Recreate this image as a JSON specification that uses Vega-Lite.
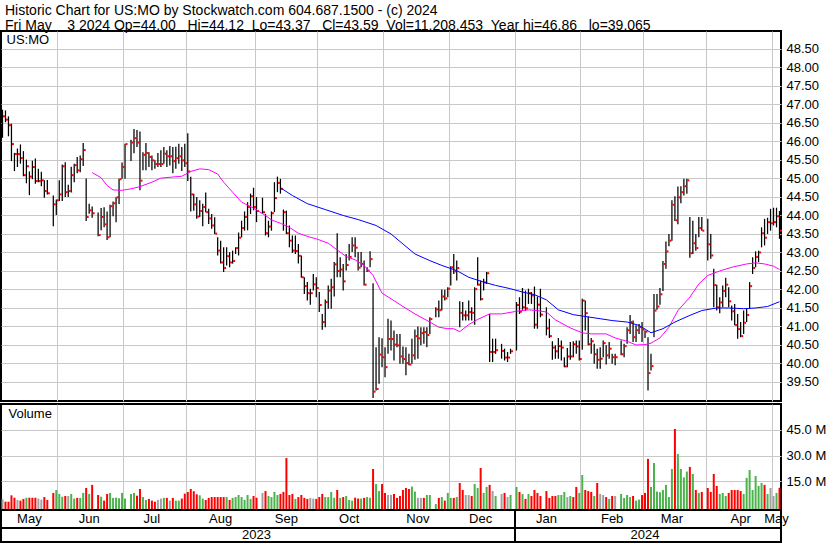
{
"$schema":"https://vega.github.io/schema/vega-lite/v6.json",
"background":"white",
"padding":{"top":4,"left":0,"right":0,"bottom":0},
"bounds":"flush",
"config":{"view":{"stroke":"#000","strokeWidth":2},"font":"Liberation Sans",
"axis":{"labelFont":"Liberation Sans","labelFontSize":13,"labelColor":"#000","gridColor":"#c8c8c8","gridWidth":1,"gridOpacity":1,"domain":false,"ticks":false,"title":null,"labelOverlap":false},
"axisY":{"labelOverlap":false},"axisRight":{"labelOverlap":false},"axisQuantitative":{"labelOverlap":false}},
"title":{"text":"Historic Chart for US:MO by Stockwatch.com 604.687.1500 - (c) 2024","anchor":"start","frame":"group","font":"Liberation Sans","fontSize":14,"fontWeight":"normal","color":"#000","offset":0,"dx":4},
"datasets":{
"px":[
{"d":"2023-05-05","h":46.86,"l":46.10,"c":46.68,"v":4500000,"s":"n"},
{"d":"2023-05-08","h":46.84,"l":46.52,"c":46.59,"v":3100000,"s":"d"},
{"d":"2023-05-09","h":46.68,"l":46.14,"c":46.44,"v":3100000,"s":"d"},
{"d":"2023-05-10","h":46.48,"l":45.47,"c":45.93,"v":6800000,"s":"d"},
{"d":"2023-05-11","h":45.69,"l":45.20,"c":45.66,"v":5400000,"s":"d"},
{"d":"2023-05-12","h":45.81,"l":45.31,"c":45.66,"v":4100000,"s":"n"},
{"d":"2023-05-15","h":45.92,"l":45.40,"c":45.55,"v":3700000,"s":"d"},
{"d":"2023-05-16","h":45.74,"l":45.06,"c":45.09,"v":4700000,"s":"d"},
{"d":"2023-05-17","h":45.51,"l":44.87,"c":45.33,"v":5400000,"s":"u"},
{"d":"2023-05-18","h":45.19,"l":44.55,"c":45.05,"v":5400000,"s":"d"},
{"d":"2023-05-19","h":45.48,"l":44.98,"c":45.31,"v":5400000,"s":"d"},
{"d":"2023-05-22","h":45.54,"l":44.86,"c":44.93,"v":5400000,"s":"d"},
{"d":"2023-05-23","h":45.26,"l":44.90,"c":44.93,"v":4900000,"s":"n"},
{"d":"2023-05-24","h":45.18,"l":44.79,"c":44.95,"v":4300000,"s":"n"},
{"d":"2023-05-25","h":44.95,"l":44.48,"c":44.66,"v":5800000,"s":"d"},
{"d":"2023-05-26","h":44.96,"l":44.57,"c":44.60,"v":4100000,"s":"d"},
{"d":"2023-05-29"},
{"d":"2023-05-30","h":44.54,"l":43.71,"c":44.30,"v":8200000,"s":"d"},
{"d":"2023-05-31","h":44.43,"l":44.01,"c":44.41,"v":9900000,"s":"u"},
{"d":"2023-06-01","h":44.95,"l":44.39,"c":44.57,"v":7600000,"s":"u"},
{"d":"2023-06-02","h":45.38,"l":44.39,"c":45.33,"v":6000000,"s":"u"},
{"d":"2023-06-05","h":45.44,"l":44.50,"c":44.63,"v":6400000,"s":"d"},
{"d":"2023-06-06","h":44.83,"l":44.50,"c":44.66,"v":6400000,"s":"n"},
{"d":"2023-06-07","h":45.32,"l":44.62,"c":45.09,"v":7600000,"s":"u"},
{"d":"2023-06-08","h":45.40,"l":44.90,"c":45.36,"v":4900000,"s":"u"},
{"d":"2023-06-09","h":45.58,"l":45.14,"c":45.22,"v":5300000,"s":"d"},
{"d":"2023-06-12","h":45.62,"l":45.17,"c":45.52,"v":5300000,"s":"u"},
{"d":"2023-06-13","h":45.96,"l":45.34,"c":45.77,"v":8200000,"s":"u"},
{"d":"2023-06-14","h":45.00,"l":43.85,"c":43.96,"v":11100000,"s":"d"},
{"d":"2023-06-15","h":44.32,"l":44.05,"c":44.14,"v":7600000,"s":"u"},
{"d":"2023-06-16","h":44.24,"l":43.94,"c":44.06,"v":12900000,"s":"d"},
{"d":"2023-06-19"},
{"d":"2023-06-20","h":44.08,"l":43.44,"c":43.47,"v":7000000,"s":"d"},
{"d":"2023-06-21","h":44.20,"l":43.60,"c":43.96,"v":6000000,"s":"u"},
{"d":"2023-06-22","h":44.22,"l":43.68,"c":43.76,"v":3700000,"s":"d"},
{"d":"2023-06-23","h":44.11,"l":43.34,"c":43.41,"v":7600000,"s":"d"},
{"d":"2023-06-26","h":44.29,"l":43.41,"c":44.25,"v":8200000,"s":"u"},
{"d":"2023-06-27","h":44.38,"l":43.98,"c":44.33,"v":5300000,"s":"u"},
{"d":"2023-06-28","h":44.49,"l":43.82,"c":44.49,"v":5400000,"s":"u"},
{"d":"2023-06-29","h":44.99,"l":44.31,"c":44.98,"v":5100000,"s":"u"},
{"d":"2023-06-30","h":45.43,"l":44.99,"c":45.31,"v":8200000,"s":"u"},
{"d":"2023-07-03","h":45.94,"l":44.99,"c":45.93,"v":4900000,"s":"u"},
{"d":"2023-07-04"},
{"d":"2023-07-05","h":46.05,"l":45.47,"c":45.97,"v":7600000,"s":"u"},
{"d":"2023-07-06","h":46.34,"l":45.68,"c":46.09,"v":8200000,"s":"u"},
{"d":"2023-07-07","h":46.31,"l":45.85,"c":45.97,"v":6600000,"s":"d"},
{"d":"2023-07-10","h":46.27,"l":44.68,"c":44.94,"v":10500000,"s":"d"},
{"d":"2023-07-11","h":45.71,"l":45.22,"c":45.64,"v":5800000,"s":"u"},
{"d":"2023-07-12","h":45.96,"l":45.22,"c":45.69,"v":4100000,"s":"u"},
{"d":"2023-07-13","h":45.71,"l":45.31,"c":45.58,"v":4700000,"s":"d"},
{"d":"2023-07-14","h":45.62,"l":45.22,"c":45.49,"v":3700000,"s":"d"},
{"d":"2023-07-17","h":45.49,"l":45.26,"c":45.39,"v":3100000,"s":"d"},
{"d":"2023-07-18","h":45.69,"l":45.31,"c":45.39,"v":4100000,"s":"n"},
{"d":"2023-07-19","h":45.76,"l":45.31,"c":45.39,"v":4900000,"s":"n"},
{"d":"2023-07-20","h":45.85,"l":45.40,"c":45.67,"v":5300000,"s":"u"},
{"d":"2023-07-21","h":45.76,"l":45.31,"c":45.60,"v":5300000,"s":"d"},
{"d":"2023-07-24","h":45.88,"l":45.35,"c":45.60,"v":3700000,"s":"n"},
{"d":"2023-07-25","h":45.85,"l":45.14,"c":45.47,"v":5300000,"s":"d"},
{"d":"2023-07-26","h":45.86,"l":45.26,"c":45.55,"v":3700000,"s":"u"},
{"d":"2023-07-27","h":45.94,"l":45.40,"c":45.60,"v":3700000,"s":"u"},
{"d":"2023-07-28","h":45.85,"l":45.20,"c":45.49,"v":4900000,"s":"d"},
{"d":"2023-07-31","h":45.94,"l":45.31,"c":45.41,"v":7800000,"s":"d"},
{"d":"2023-08-01","h":46.22,"l":44.93,"c":45.19,"v":8800000,"s":"d"},
{"d":"2023-08-02","h":45.05,"l":44.11,"c":44.57,"v":10500000,"s":"d"},
{"d":"2023-08-03","h":44.59,"l":44.13,"c":44.30,"v":9200000,"s":"d"},
{"d":"2023-08-04","h":44.50,"l":43.91,"c":43.97,"v":7400000,"s":"d"},
{"d":"2023-08-07","h":44.41,"l":43.96,"c":44.12,"v":6800000,"s":"u"},
{"d":"2023-08-08","h":44.32,"l":43.71,"c":44.23,"v":4900000,"s":"u"},
{"d":"2023-08-09","h":44.62,"l":44.09,"c":44.09,"v":4100000,"s":"d"},
{"d":"2023-08-10","h":44.18,"l":43.77,"c":43.92,"v":5300000,"s":"d"},
{"d":"2023-08-11","h":44.04,"l":43.64,"c":43.73,"v":5800000,"s":"d"},
{"d":"2023-08-14","h":43.95,"l":43.50,"c":43.51,"v":5800000,"s":"d"},
{"d":"2023-08-15","h":43.41,"l":42.92,"c":43.05,"v":5800000,"s":"d"},
{"d":"2023-08-16","h":43.32,"l":42.70,"c":42.73,"v":5800000,"s":"d"},
{"d":"2023-08-17","h":43.14,"l":42.47,"c":42.58,"v":5800000,"s":"d"},
{"d":"2023-08-18","h":43.14,"l":42.65,"c":42.90,"v":5800000,"s":"u"},
{"d":"2023-08-21","h":43.01,"l":42.60,"c":42.73,"v":4100000,"s":"d"},
{"d":"2023-08-22","h":43.05,"l":42.70,"c":42.77,"v":5300000,"s":"u"},
{"d":"2023-08-23","h":43.14,"l":42.96,"c":43.12,"v":5800000,"s":"u"},
{"d":"2023-08-24","h":43.54,"l":42.92,"c":43.40,"v":7000000,"s":"u"},
{"d":"2023-08-25","h":43.86,"l":43.41,"c":43.66,"v":5800000,"s":"u"},
{"d":"2023-08-28","h":44.11,"l":43.59,"c":43.96,"v":4100000,"s":"u"},
{"d":"2023-08-29","h":44.36,"l":43.60,"c":44.23,"v":7000000,"s":"u"},
{"d":"2023-08-30","h":44.59,"l":44.04,"c":44.52,"v":4700000,"s":"u"},
{"d":"2023-08-31","h":44.75,"l":44.14,"c":44.23,"v":6400000,"s":"d"},
{"d":"2023-09-01","h":44.50,"l":43.82,"c":44.12,"v":5400000,"s":"d"},
{"d":"2023-09-04"},
{"d":"2023-09-05","h":44.48,"l":44.04,"c":44.09,"v":8200000,"s":"n"},
{"d":"2023-09-06","h":44.04,"l":43.46,"c":43.52,"v":9300000,"s":"d"},
{"d":"2023-09-07","h":43.86,"l":43.41,"c":43.70,"v":6400000,"s":"u"},
{"d":"2023-09-08","h":44.11,"l":43.59,"c":44.06,"v":5800000,"s":"u"},
{"d":"2023-09-11","h":44.90,"l":44.09,"c":44.47,"v":8800000,"s":"u"},
{"d":"2023-09-12","h":45.05,"l":44.63,"c":44.88,"v":7000000,"s":"u"},
{"d":"2023-09-13","h":44.99,"l":44.59,"c":44.72,"v":7600000,"s":"d"},
{"d":"2023-09-14","h":44.16,"l":43.59,"c":44.09,"v":8800000,"s":"d"},
{"d":"2023-09-15","h":44.13,"l":43.50,"c":43.52,"v":28600000,"s":"d"},
{"d":"2023-09-18","h":43.73,"l":43.14,"c":43.32,"v":7000000,"s":"d"},
{"d":"2023-09-19","h":43.46,"l":42.99,"c":43.05,"v":7600000,"s":"d"},
{"d":"2023-09-20","h":43.46,"l":42.96,"c":43.04,"v":4700000,"s":"u"},
{"d":"2023-09-21","h":43.23,"l":42.70,"c":42.91,"v":5800000,"s":"d"},
{"d":"2023-09-22","h":42.92,"l":42.32,"c":42.33,"v":7000000,"s":"d"},
{"d":"2023-09-25","h":42.33,"l":41.88,"c":42.09,"v":5300000,"s":"d"},
{"d":"2023-09-26","h":42.20,"l":41.70,"c":41.90,"v":4700000,"s":"d"},
{"d":"2023-09-27","h":42.02,"l":41.59,"c":41.90,"v":5300000,"s":"n"},
{"d":"2023-09-28","h":42.42,"l":41.97,"c":42.14,"v":4900000,"s":"n"},
{"d":"2023-09-29","h":42.33,"l":41.79,"c":42.04,"v":4700000,"s":"d"},
{"d":"2023-10-02","h":41.93,"l":41.39,"c":41.58,"v":5800000,"s":"d"},
{"d":"2023-10-03","h":41.34,"l":40.91,"c":41.12,"v":7600000,"s":"d"},
{"d":"2023-10-04","h":41.73,"l":40.98,"c":41.66,"v":5800000,"s":"u"},
{"d":"2023-10-05","h":42.11,"l":41.48,"c":41.97,"v":5800000,"s":"u"},
{"d":"2023-10-06","h":42.29,"l":41.48,"c":42.06,"v":8800000,"s":"u"},
{"d":"2023-10-09","h":42.74,"l":41.81,"c":42.68,"v":5400000,"s":"u"},
{"d":"2023-10-10","h":43.52,"l":42.33,"c":42.50,"v":9900000,"s":"d"},
{"d":"2023-10-11","h":42.87,"l":42.33,"c":42.54,"v":5300000,"s":"u"},
{"d":"2023-10-12","h":42.69,"l":41.97,"c":42.22,"v":5800000,"s":"d"},
{"d":"2023-10-13","h":42.96,"l":42.51,"c":42.66,"v":6400000,"s":"u"},
{"d":"2023-10-16","h":43.23,"l":42.78,"c":42.88,"v":4100000,"s":"u"},
{"d":"2023-10-17","h":43.41,"l":43.01,"c":43.19,"v":3700000,"s":"u"},
{"d":"2023-10-18","h":43.41,"l":42.87,"c":43.13,"v":5400000,"s":"d"},
{"d":"2023-10-19","h":43.01,"l":42.51,"c":42.59,"v":4900000,"s":"d"},
{"d":"2023-10-20","h":43.01,"l":42.60,"c":42.69,"v":4900000,"s":"u"},
{"d":"2023-10-23","h":42.78,"l":42.11,"c":42.13,"v":5300000,"s":"d"},
{"d":"2023-10-24","h":42.60,"l":42.47,"c":42.51,"v":5800000,"s":"u"},
{"d":"2023-10-25","h":43.03,"l":42.60,"c":42.82,"v":5400000,"s":"u"},
{"d":"2023-10-26","h":42.17,"l":39.07,"c":39.24,"v":22200000,"s":"d"},
{"d":"2023-10-27","h":40.44,"l":39.27,"c":39.31,"v":13400000,"s":"u"},
{"d":"2023-10-30","h":40.71,"l":39.45,"c":40.24,"v":9300000,"s":"u"},
{"d":"2023-10-31","h":40.68,"l":39.90,"c":40.17,"v":13400000,"s":"d"},
{"d":"2023-11-01","h":40.44,"l":39.63,"c":39.90,"v":8200000,"s":"d"},
{"d":"2023-11-02","h":41.21,"l":40.26,"c":40.66,"v":7000000,"s":"n"},
{"d":"2023-11-03","h":41.16,"l":40.35,"c":40.66,"v":7000000,"s":"n"},
{"d":"2023-11-06","h":40.89,"l":40.08,"c":40.51,"v":7600000,"s":"d"},
{"d":"2023-11-07","h":40.80,"l":40.44,"c":40.49,"v":5300000,"s":"d"},
{"d":"2023-11-08","h":40.80,"l":39.99,"c":40.19,"v":6400000,"s":"d"},
{"d":"2023-11-09","h":40.46,"l":39.99,"c":40.12,"v":9900000,"s":"d"},
{"d":"2023-11-10","h":40.44,"l":39.68,"c":40.01,"v":11100000,"s":"d"},
{"d":"2023-11-13","h":40.26,"l":39.95,"c":39.97,"v":10500000,"s":"d"},
{"d":"2023-11-14","h":40.67,"l":39.99,"c":40.22,"v":11900000,"s":"u"},
{"d":"2023-11-15","h":40.92,"l":40.10,"c":40.74,"v":9000000,"s":"u"},
{"d":"2023-11-16","h":41.00,"l":40.13,"c":40.68,"v":5300000,"s":"n"},
{"d":"2023-11-17","h":40.98,"l":40.49,"c":40.82,"v":5300000,"s":"n"},
{"d":"2023-11-20","h":40.98,"l":40.53,"c":40.85,"v":5300000,"s":"d"},
{"d":"2023-11-21","h":40.98,"l":40.44,"c":40.77,"v":7000000,"s":"u"},
{"d":"2023-11-22","h":41.25,"l":40.80,"c":41.20,"v":7000000,"s":"u"},
{"d":"2023-11-23"},
{"d":"2023-11-24","h":41.52,"l":41.25,"c":41.46,"v":1700000,"s":"u"},
{"d":"2023-11-27","h":41.70,"l":41.25,"c":41.44,"v":5300000,"s":"d"},
{"d":"2023-11-28","h":42.00,"l":41.43,"c":41.81,"v":5800000,"s":"u"},
{"d":"2023-11-29","h":41.99,"l":41.70,"c":41.76,"v":3700000,"s":"d"},
{"d":"2023-11-30","h":42.06,"l":41.79,"c":42.02,"v":8200000,"s":"u"},
{"d":"2023-12-01","h":42.63,"l":42.11,"c":42.60,"v":5300000,"s":"u"},
{"d":"2023-12-04","h":42.96,"l":42.42,"c":42.49,"v":5300000,"s":"d"},
{"d":"2023-12-05","h":42.78,"l":42.24,"c":42.58,"v":5800000,"s":"u"},
{"d":"2023-12-06","h":41.68,"l":40.98,"c":41.37,"v":14000000,"s":"d"},
{"d":"2023-12-07","h":41.66,"l":41.16,"c":41.30,"v":9900000,"s":"d"},
{"d":"2023-12-08","h":41.43,"l":41.16,"c":41.30,"v":7000000,"s":"n"},
{"d":"2023-12-11","h":41.70,"l":41.16,"c":41.39,"v":7000000,"s":"n"},
{"d":"2023-12-12","h":41.52,"l":41.16,"c":41.37,"v":6400000,"s":"d"},
{"d":"2023-12-13","h":42.06,"l":41.05,"c":42.01,"v":13400000,"s":"u"},
{"d":"2023-12-14","h":42.87,"l":42.11,"c":42.13,"v":11100000,"s":"u"},
{"d":"2023-12-15","h":42.24,"l":41.70,"c":41.74,"v":22800000,"s":"d"},
{"d":"2023-12-18","h":42.29,"l":41.97,"c":42.19,"v":8200000,"s":"u"},
{"d":"2023-12-19","h":42.47,"l":42.15,"c":42.44,"v":11700000,"s":"u"},
{"d":"2023-12-20","h":41.34,"l":40.04,"c":40.31,"v":12900000,"s":"d"},
{"d":"2023-12-21","h":40.67,"l":40.04,"c":40.31,"v":9300000,"s":"n"},
{"d":"2023-12-22","h":40.67,"l":40.26,"c":40.36,"v":6400000,"s":"u"},
{"d":"2023-12-25"},
{"d":"2023-12-26","h":40.53,"l":40.13,"c":40.34,"v":7600000,"s":"n"},
{"d":"2023-12-27","h":40.40,"l":40.08,"c":40.16,"v":8200000,"s":"d"},
{"d":"2023-12-28","h":40.31,"l":40.04,"c":40.16,"v":5800000,"s":"n"},
{"d":"2023-12-29","h":40.40,"l":40.26,"c":40.33,"v":7000000,"s":"u"},
{"d":"2024-01-01"},
{"d":"2024-01-02","h":41.66,"l":40.35,"c":41.58,"v":11700000,"s":"u"},
{"d":"2024-01-03","h":41.79,"l":41.34,"c":41.40,"v":8800000,"s":"d"},
{"d":"2024-01-04","h":42.04,"l":41.45,"c":41.52,"v":7600000,"s":"u"},
{"d":"2024-01-05","h":41.97,"l":41.43,"c":41.49,"v":4700000,"s":"d"},
{"d":"2024-01-08","h":42.02,"l":41.61,"c":41.90,"v":7600000,"s":"u"},
{"d":"2024-01-09","h":41.93,"l":41.61,"c":41.84,"v":6400000,"s":"d"},
{"d":"2024-01-10","h":42.08,"l":40.94,"c":41.05,"v":9900000,"s":"d"},
{"d":"2024-01-11","h":41.81,"l":40.94,"c":41.59,"v":8200000,"s":"d"},
{"d":"2024-01-12","h":42.02,"l":41.25,"c":41.32,"v":6400000,"s":"d"},
{"d":"2024-01-15"},
{"d":"2024-01-16","h":41.52,"l":40.76,"c":40.95,"v":9300000,"s":"d"},
{"d":"2024-01-17","h":41.21,"l":40.69,"c":40.74,"v":5300000,"s":"d"},
{"d":"2024-01-18","h":40.60,"l":40.10,"c":40.43,"v":6400000,"s":"d"},
{"d":"2024-01-19","h":40.49,"l":40.13,"c":40.33,"v":6400000,"s":"d"},
{"d":"2024-01-22","h":40.69,"l":40.13,"c":40.47,"v":7000000,"s":"u"},
{"d":"2024-01-23","h":40.62,"l":40.08,"c":40.43,"v":7000000,"s":"u"},
{"d":"2024-01-24","h":40.17,"l":39.90,"c":39.92,"v":8800000,"s":"u"},
{"d":"2024-01-25","h":40.42,"l":39.90,"c":40.19,"v":5800000,"s":"n"},
{"d":"2024-01-26","h":40.58,"l":40.10,"c":40.19,"v":6400000,"s":"u"},
{"d":"2024-01-29","h":40.60,"l":40.17,"c":40.52,"v":5800000,"s":"d"},
{"d":"2024-01-30","h":40.62,"l":40.26,"c":40.46,"v":11700000,"s":"d"},
{"d":"2024-01-31","h":40.62,"l":40.08,"c":40.12,"v":8200000,"s":"u"},
{"d":"2024-02-01","h":41.75,"l":40.37,"c":41.70,"v":18700000,"s":"u"},
{"d":"2024-02-02","h":41.70,"l":40.89,"c":41.36,"v":9900000,"s":"d"},
{"d":"2024-02-05","h":41.27,"l":40.49,"c":40.52,"v":9300000,"s":"d"},
{"d":"2024-02-06","h":40.69,"l":40.26,"c":40.60,"v":8800000,"s":"d"},
{"d":"2024-02-07","h":40.53,"l":39.99,"c":40.25,"v":6400000,"s":"u"},
{"d":"2024-02-08","h":40.40,"l":39.86,"c":40.10,"v":14000000,"s":"d"},
{"d":"2024-02-09","h":40.44,"l":39.86,"c":40.13,"v":7600000,"s":"n"},
{"d":"2024-02-12","h":40.62,"l":40.17,"c":40.55,"v":7000000,"s":"n"},
{"d":"2024-02-13","h":40.49,"l":39.97,"c":40.22,"v":5800000,"s":"d"},
{"d":"2024-02-14","h":40.58,"l":40.13,"c":40.40,"v":4700000,"s":"u"},
{"d":"2024-02-15","h":40.26,"l":39.99,"c":40.17,"v":6400000,"s":"d"},
{"d":"2024-02-16","h":40.26,"l":39.95,"c":40.17,"v":6400000,"s":"n"},
{"d":"2024-02-19"},
{"d":"2024-02-20","h":40.62,"l":40.22,"c":40.25,"v":7600000,"s":"u"},
{"d":"2024-02-21","h":40.53,"l":40.17,"c":40.47,"v":5300000,"s":"u"},
{"d":"2024-02-22","h":40.98,"l":40.53,"c":40.90,"v":7000000,"s":"u"},
{"d":"2024-02-23","h":41.31,"l":40.80,"c":41.12,"v":5800000,"s":"u"},
{"d":"2024-02-26","h":41.16,"l":40.58,"c":40.71,"v":6400000,"s":"d"},
{"d":"2024-02-27","h":41.03,"l":40.58,"c":40.90,"v":3700000,"s":"u"},
{"d":"2024-02-28","h":41.07,"l":40.80,"c":40.98,"v":4300000,"s":"u"},
{"d":"2024-02-29","h":41.12,"l":40.58,"c":40.92,"v":7000000,"s":"d"},
{"d":"2024-03-01","h":40.89,"l":40.69,"c":40.86,"v":8200000,"s":"d"},
{"d":"2024-03-04","h":40.71,"l":39.27,"c":39.74,"v":28100000,"s":"d"},
{"d":"2024-03-05","h":40.26,"l":39.81,"c":39.93,"v":11700000,"s":"u"},
{"d":"2024-03-06","h":41.88,"l":40.71,"c":41.43,"v":25700000,"s":"u"},
{"d":"2024-03-07","h":41.88,"l":41.45,"c":41.54,"v":9000000,"s":"u"},
{"d":"2024-03-08","h":42.04,"l":41.59,"c":41.87,"v":8600000,"s":"u"},
{"d":"2024-03-11","h":42.77,"l":41.96,"c":42.69,"v":9900000,"s":"u"},
{"d":"2024-03-12","h":43.30,"l":42.56,"c":43.03,"v":12900000,"s":"u"},
{"d":"2024-03-13","h":43.50,"l":43.17,"c":43.32,"v":5800000,"s":"u"},
{"d":"2024-03-14","h":44.41,"l":43.32,"c":44.29,"v":22200000,"s":"u"},
{"d":"2024-03-15","h":44.52,"l":43.85,"c":43.87,"v":45600000,"s":"d"},
{"d":"2024-03-18","h":44.78,"l":43.76,"c":44.49,"v":31000000,"s":"u"},
{"d":"2024-03-19","h":44.79,"l":44.33,"c":44.63,"v":22200000,"s":"u"},
{"d":"2024-03-20","h":44.99,"l":44.54,"c":44.79,"v":17300000,"s":"u"},
{"d":"2024-03-21","h":44.99,"l":44.59,"c":44.95,"v":20700000,"s":"u"},
{"d":"2024-03-22","h":43.96,"l":42.86,"c":42.98,"v":23400000,"s":"d"},
{"d":"2024-03-25","h":43.86,"l":42.96,"c":43.25,"v":19300000,"s":"u"},
{"d":"2024-03-26","h":43.50,"l":43.05,"c":43.12,"v":9900000,"s":"d"},
{"d":"2024-03-27","h":43.96,"l":43.41,"c":43.66,"v":8200000,"s":"u"},
{"d":"2024-03-28","h":43.96,"l":43.59,"c":43.59,"v":8800000,"s":"d"},
{"d":"2024-03-29"},
{"d":"2024-04-01","h":43.91,"l":42.78,"c":43.22,"v":11100000,"s":"d"},
{"d":"2024-04-02","h":43.50,"l":42.83,"c":42.92,"v":8800000,"s":"d"},
{"d":"2024-04-03","h":42.56,"l":41.52,"c":42.12,"v":19300000,"s":"d"},
{"d":"2024-04-04","h":42.13,"l":41.43,"c":41.52,"v":12300000,"s":"d"},
{"d":"2024-04-05","h":41.79,"l":41.36,"c":41.65,"v":7600000,"s":"u"},
{"d":"2024-04-08","h":42.11,"l":41.52,"c":41.96,"v":8200000,"s":"u"},
{"d":"2024-04-09","h":42.32,"l":41.79,"c":42.13,"v":6400000,"s":"u"},
{"d":"2024-04-10","h":42.06,"l":41.52,"c":41.68,"v":8200000,"s":"d"},
{"d":"2024-04-11","h":41.57,"l":41.16,"c":41.41,"v":9900000,"s":"d"},
{"d":"2024-04-12","h":41.61,"l":41.03,"c":41.04,"v":9900000,"s":"d"},
{"d":"2024-04-15","h":41.34,"l":40.67,"c":40.93,"v":9900000,"s":"d"},
{"d":"2024-04-16","h":41.12,"l":40.71,"c":40.74,"v":9300000,"s":"d"},
{"d":"2024-04-17","h":41.43,"l":40.80,"c":41.10,"v":7600000,"s":"u"},
{"d":"2024-04-18","h":41.48,"l":41.12,"c":41.31,"v":17000000,"s":"u"},
{"d":"2024-04-19","h":42.20,"l":41.48,"c":42.09,"v":21600000,"s":"u"},
{"d":"2024-04-22","h":42.87,"l":42.42,"c":42.58,"v":9900000,"s":"u"},
{"d":"2024-04-23","h":43.03,"l":42.60,"c":42.88,"v":18100000,"s":"u"},
{"d":"2024-04-24","h":43.05,"l":42.74,"c":43.00,"v":12300000,"s":"u"},
{"d":"2024-04-25","h":43.68,"l":43.14,"c":43.52,"v":14000000,"s":"u"},
{"d":"2024-04-26","h":43.91,"l":43.19,"c":43.40,"v":12900000,"s":"d"},
{"d":"2024-04-29","h":43.94,"l":43.50,"c":43.82,"v":7600000,"s":"u"},
{"d":"2024-04-30","h":44.18,"l":43.59,"c":43.79,"v":11100000,"s":"n"},
{"d":"2024-05-01","h":44.21,"l":43.73,"c":43.82,"v":6400000,"s":"n"},
{"d":"2024-05-02","h":44.21,"l":43.68,"c":43.98,"v":8200000,"s":"u"},
{"d":"2024-05-03","h":44.12,"l":43.37,"c":43.59,"v":11208453,"s":"d"}
],
"ma1":[
{"d":"2023-06-16","v":45.16},{"d":"2023-06-21","v":45.02},{"d":"2023-06-23","v":44.81},{"d":"2023-06-27","v":44.69},{"d":"2023-06-30","v":44.68},{"d":"2023-07-05","v":44.72},{"d":"2023-07-10","v":44.78},{"d":"2023-07-14","v":44.90},{"d":"2023-07-19","v":45.01},{"d":"2023-07-25","v":45.04},{"d":"2023-07-28","v":45.06},{"d":"2023-08-02","v":45.19},{"d":"2023-08-07","v":45.26},{"d":"2023-08-10","v":45.24},{"d":"2023-08-15","v":45.12},{"d":"2023-08-17","v":44.90},{"d":"2023-08-22","v":44.63},{"d":"2023-08-25","v":44.36},{"d":"2023-08-31","v":44.20},{"d":"2023-09-06","v":44.00},{"d":"2023-09-08","v":43.88},{"d":"2023-09-13","v":43.79},{"d":"2023-09-18","v":43.68},{"d":"2023-09-21","v":43.52},{"d":"2023-09-27","v":43.41},{"d":"2023-09-29","v":43.37},{"d":"2023-10-05","v":43.25},{"d":"2023-10-10","v":43.07},{"d":"2023-10-13","v":42.89},{"d":"2023-10-18","v":42.80},{"d":"2023-10-23","v":42.65},{"d":"2023-10-26","v":42.38},{"d":"2023-10-31","v":41.90},{"d":"2023-11-03","v":41.75},{"d":"2023-11-09","v":41.54},{"d":"2023-11-15","v":41.34},{"d":"2023-11-22","v":41.12},{"d":"2023-11-27","v":40.98},{"d":"2023-11-30","v":40.94},{"d":"2023-12-04","v":40.94},{"d":"2023-12-06","v":40.86},{"d":"2023-12-11","v":41.05},{"d":"2023-12-14","v":41.19},{"d":"2023-12-20","v":41.34},{"d":"2023-12-26","v":41.34},{"d":"2024-01-02","v":41.41},{"d":"2024-01-08","v":41.45},{"d":"2024-01-11","v":41.43},{"d":"2024-01-16","v":41.39},{"d":"2024-01-19","v":41.18},{"d":"2024-01-26","v":40.96},{"d":"2024-02-01","v":40.83},{"d":"2024-02-06","v":40.80},{"d":"2024-02-13","v":40.80},{"d":"2024-02-16","v":40.69},{"d":"2024-02-22","v":40.60},{"d":"2024-02-27","v":40.50},{"d":"2024-03-01","v":40.51},{"d":"2024-03-05","v":40.55},{"d":"2024-03-08","v":40.69},{"d":"2024-03-13","v":40.98},{"d":"2024-03-18","v":41.43},{"d":"2024-03-22","v":41.79},{"d":"2024-03-27","v":42.15},{"d":"2024-04-01","v":42.38},{"d":"2024-04-05","v":42.50},{"d":"2024-04-11","v":42.60},{"d":"2024-04-18","v":42.69},{"d":"2024-04-23","v":42.72},{"d":"2024-04-26","v":42.69},{"d":"2024-05-01","v":42.63},{"d":"2024-05-03","v":42.54}
],
"ma2":[
{"d":"2023-09-13","v":44.75},{"d":"2023-09-19","v":44.54},{"d":"2023-09-26","v":44.32},{"d":"2023-10-04","v":44.16},{"d":"2023-10-12","v":44.00},{"d":"2023-10-19","v":43.89},{"d":"2023-10-27","v":43.73},{"d":"2023-11-03","v":43.50},{"d":"2023-11-09","v":43.23},{"d":"2023-11-15","v":42.96},{"d":"2023-11-22","v":42.78},{"d":"2023-11-28","v":42.65},{"d":"2023-12-05","v":42.51},{"d":"2023-12-11","v":42.33},{"d":"2023-12-18","v":42.20},{"d":"2023-12-22","v":42.11},{"d":"2023-12-29","v":42.02},{"d":"2024-01-04","v":41.93},{"d":"2024-01-10","v":41.86},{"d":"2024-01-16","v":41.72},{"d":"2024-01-22","v":41.45},{"d":"2024-01-29","v":41.32},{"d":"2024-02-02","v":41.27},{"d":"2024-02-09","v":41.21},{"d":"2024-02-15","v":41.16},{"d":"2024-02-22","v":41.12},{"d":"2024-02-28","v":41.03},{"d":"2024-03-05","v":40.83},{"d":"2024-03-11","v":40.94},{"d":"2024-03-15","v":41.12},{"d":"2024-03-22","v":41.30},{"d":"2024-03-28","v":41.43},{"d":"2024-04-04","v":41.50},{"d":"2024-04-10","v":41.50},{"d":"2024-04-17","v":41.48},{"d":"2024-04-23","v":41.50},{"d":"2024-04-29","v":41.54},{"d":"2024-05-03","v":41.67}
]
},
"spacing":3,
"resolve":{"scale":{"x":"shared","y":"independent"}},
"vconcat":[
{
"width":780,"height":370,
"title":{"text":"Fri May\u00a0\u00a0\u00a0\u00a03 2024 Op=44.00\u00a0\u00a0\u00a0Hi=44.12\u00a0\u00a0Lo=43.37\u00a0\u00a0\u00a0Cl=43.59\u00a0\u00a0Vol=11,208,453\u00a0\u00a0Year hi=46.86\u00a0\u00a0\u00a0lo=39.065","anchor":"start","frame":"group","orient":"top","offset":-2,"dx":4,"fontSize":14,"fontWeight":"normal","font":"Liberation Sans","color":"#000"},
"data":{"name":"px"},
"layer":[
{"mark":{"type":"rule","opacity":0},"encoding":{"x":{"field":"d","type":"ordinal","title":null,"scale":{"type":"band","paddingInner":0,"paddingOuter":0},"axis":{"values":["2023-06-01","2023-07-03","2023-08-01","2023-09-01","2023-10-02","2023-11-01","2023-12-01","2024-01-02","2024-02-01","2024-03-01","2024-04-01","2024-05-01"],"grid":true,"labels":false,"ticks":false,"domain":false,"title":null,"bandPosition":0,"minExtent":0,"maxExtent":0,"offset":0}}}},
{"mark":{"type":"rule","color":"#000","strokeWidth":1.25},"encoding":{"x":{"field":"d","type":"ordinal","title":null},"y":{"field":"l","type":"quantitative","title":null,"scale":{"domain":[38.986,48.986],"nice":false,"zero":false},"axis":{"orient":"right","values":[39.5,40,40.5,41,41.5,42,42.5,43,43.5,44,44.5,45,45.5,46,46.5,47,47.5,48,48.5],"format":".2f","grid":true,"labelPadding":5,"labelOverlap":false,"labelSeparation":0,"title":null}},"y2":{"field":"h"}}},
{"mark":{"type":"point","shape":"square","size":4,"filled":true,"color":"#ff0000","opacity":1,"xOffset":1.5},"encoding":{"x":{"field":"d","type":"ordinal","title":null},"y":{"field":"c","type":"quantitative","title":null,"axis":{"orient":"right","values":[39.5,40,40.5,41,41.5,42,42.5,43,43.5,44,44.5,45,45.5,46,46.5,47,47.5,48,48.5],"format":".2f","grid":true,"labelPadding":5,"labelOverlap":false,"labelSeparation":0,"title":null}}}},
{"data":{"name":"ma1"},"mark":{"type":"line","color":"#ff00ff","strokeWidth":1},"encoding":{"x":{"field":"d","type":"ordinal","title":null},"y":{"field":"v","type":"quantitative","title":null,"axis":{"orient":"right","values":[39.5,40,40.5,41,41.5,42,42.5,43,43.5,44,44.5,45,45.5,46,46.5,47,47.5,48,48.5],"format":".2f","grid":true,"labelPadding":5,"labelOverlap":false,"labelSeparation":0,"title":null}}}},
{"data":{"name":"ma2"},"mark":{"type":"line","color":"#0000ff","strokeWidth":1},"encoding":{"x":{"field":"d","type":"ordinal","title":null},"y":{"field":"v","type":"quantitative","title":null,"axis":{"orient":"right","values":[39.5,40,40.5,41,41.5,42,42.5,43,43.5,44,44.5,45,45.5,46,46.5,47,47.5,48,48.5],"format":".2f","grid":true,"labelPadding":5,"labelOverlap":false,"labelSeparation":0,"title":null}}}},
{"transform":[{"filter":{"field":"d","equal":"2023-05-05"}}],"mark":{"type":"text","text":"US:MO","align":"left","baseline":"middle","dx":4,"fontSize":13,"font":"Liberation Sans","color":"#000"},"encoding":{"x":{"field":"d","type":"ordinal","title":null},"y":{"datum":48.74,"type":"quantitative","axis":{"orient":"right","values":[39.5,40,40.5,41,41.5,42,42.5,43,43.5,44,44.5,45,45.5,46,46.5,47,47.5,48,48.5],"format":".2f","grid":true,"labelPadding":5,"labelOverlap":false,"labelSeparation":0,"title":null}}}}
]
},
{
"spacing":0,
"bounds":"flush",
"resolve":{"scale":{"x":"shared","y":"independent"}},
"vconcat":[
{
"width":780,"height":106,
"data":{"name":"px"},
"layer":[
{"mark":{"type":"bar","width":2},"encoding":{
"x":{"field":"d","type":"ordinal","title":null,"axis":{"values":["2023-06-01","2023-07-03","2023-08-01","2023-09-01","2023-10-02","2023-11-01","2023-12-01","2024-01-02","2024-02-01","2024-03-01","2024-04-01","2024-05-01"],"grid":true,"labels":false,"ticks":false,"domain":false,"title":null,"bandPosition":0,"minExtent":0,"maxExtent":0,"offset":0}},
"y":{"field":"v","type":"quantitative","title":null,"scale":{"domain":[-1780000,60200000],"nice":false,"zero":false},"axis":{"orient":"right","values":[15000000,30000000,45000000],"labelExpr":"format(datum.value/1000000,'.1f')+' M'","grid":true,"labelPadding":5,"labelOverlap":false,"title":null}},
"y2":{"datum":-1780000},
"color":{"field":"s","type":"nominal","scale":{"domain":["u","d","n"],"range":["#4cb34c","#ff0000","#a0a0a0"]},"legend":null}}},
{"transform":[{"filter":{"field":"d","equal":"2023-05-05"}}],"mark":{"type":"text","text":"Volume","align":"left","baseline":"middle","dx":6,"fontSize":13,"font":"Liberation Sans","color":"#000"},"encoding":{"x":{"field":"d","type":"ordinal","title":null},"y":{"datum":54400000,"type":"quantitative","axis":{"orient":"right","values":[15000000,30000000,45000000],"labelExpr":"format(datum.value/1000000,'.1f')+' M'","grid":true,"labelPadding":5,"labelOverlap":false,"title":null}}}}
]
},
{
"width":780,"height":18,
"data":{"name":"px"},
"layer":[
{"transform":[{"filter":{"field":"d","oneOf":["2023-05-18","2023-06-15","2023-07-14","2023-08-16","2023-09-15","2023-10-16","2023-11-16","2023-12-15","2024-01-16","2024-02-15","2024-03-14","2024-04-16","2024-05-02"]}},{"calculate":"['Jan','Feb','Mar','Apr','May','Jun','Jul','Aug','Sep','Oct','Nov','Dec'][toNumber(substring(datum.d,5,7))-1]","as":"m"}],
"mark":{"type":"text","fontSize":13,"font":"Liberation Sans","baseline":"middle","color":"#000"},
"encoding":{"x":{"field":"d","type":"ordinal","axis":null},"text":{"field":"m","type":"nominal"}}},
{"transform":[{"filter":{"field":"d","equal":"2024-01-02"}}],
"mark":{"type":"rule","color":"#000","strokeWidth":2},
"encoding":{"x":{"field":"d","type":"ordinal","bandPosition":0,"axis":null}}}
]
},
{
"width":780,"height":14,
"data":{"name":"px"},
"layer":[
{"transform":[{"filter":{"field":"d","oneOf":["2023-09-01","2024-03-01"]}},{"calculate":"substring(datum.d,0,4)","as":"y"}],
"mark":{"type":"text","fontSize":13,"font":"Liberation Sans","baseline":"middle","color":"#000"},
"encoding":{"x":{"field":"d","type":"ordinal","axis":null},"text":{"field":"y","type":"nominal"}}},
{"transform":[{"filter":{"field":"d","equal":"2024-01-02"}}],
"mark":{"type":"rule","color":"#000","strokeWidth":2},
"encoding":{"x":{"field":"d","type":"ordinal","bandPosition":0,"axis":null}}}
]
}
]
}
]
}
